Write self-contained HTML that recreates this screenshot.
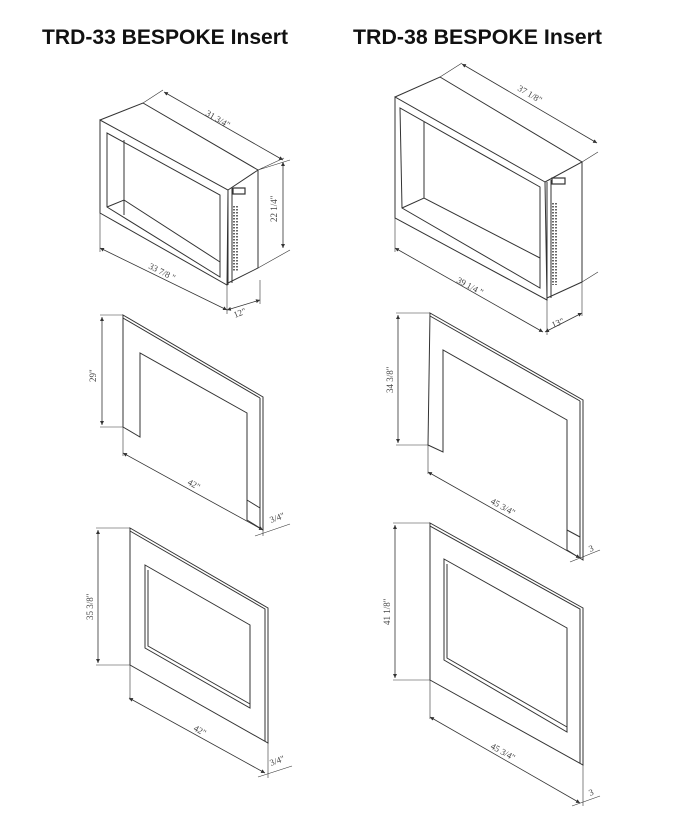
<!DOCTYPE html>
<html><head><meta charset="utf-8"><style>
html,body{margin:0;padding:0;background:#fff;}
svg{display:block;}
.t{font-family:"Liberation Sans",sans-serif;font-weight:bold;font-size:21px;fill:#111;}
.d{font-family:"Liberation Serif",serif;font-size:9px;fill:#444;}
</style></head><body>
<svg width="700" height="830" viewBox="0 0 700 830" xmlns="http://www.w3.org/2000/svg">
<defs>
<marker id="a" viewBox="0 0 6 6" refX="6" refY="3" markerWidth="5" markerHeight="5" orient="auto-start-reverse"><path d="M0,0L6,3L0,6z" fill="#333"/></marker>
</defs>
<text class="t" x="42" y="44" textLength="246" lengthAdjust="spacingAndGlyphs">TRD-33 BESPOKE Insert</text>
<text class="t" x="353" y="44" textLength="249" lengthAdjust="spacingAndGlyphs">TRD-38 BESPOKE Insert</text>

<g fill="none" stroke="#333" stroke-width="1">
<!-- ===== TOP LEFT BOX ===== -->
<path d="M100,120 L100,213 L227,285 L228,190 Z" fill="#fff"/>
<path d="M107,133 L107,207 L220,277 L220,195 Z"/>
<path d="M124,140 L124,215"/>
<path d="M107,207 L124,200 L220,262"/>
<path d="M100,120 L143,103 L258,170 L228,190"/>
<path d="M258,170 L258,268 L228,283"/>
<path d="M228,190 L228,285"/>
<path d="M232,188 L232,283"/>
<rect x="233" y="188" width="12" height="6" stroke-width="1.2"/>
<path d="M234,206 L234,272 M237,206 L237,272" stroke="#666" stroke-dasharray="1.5,1.5" stroke-width="2"/>
<path d="M143,103 L163,90 M258,170 L284,158 M258,170 L290,160 M258,268 L290,250" stroke-width="0.6"/>
<path d="M164,92 L283,160" stroke-width="0.8" marker-start="url(#a)" marker-end="url(#a)"/>
<path d="M283,162 L283,248" stroke-width="0.8" marker-start="url(#a)" marker-end="url(#a)"/>
<path d="M100,213 L100,252 M227,285 L227,314 M260,280 L260,304" stroke-width="0.6"/>
<path d="M100,248 L227,310" stroke-width="0.8" marker-start="url(#a)" marker-end="url(#a)"/>
<path d="M227,310 L260,300" stroke-width="0.8" marker-start="url(#a)" marker-end="url(#a)"/>

<!-- ===== TOP RIGHT BOX ===== -->
<path d="M395,97 L395,218 L547,300 L545,182 Z" fill="#fff"/>
<path d="M400,108 L402,208 L540,288 L540,187 Z"/>
<path d="M424,122 L424,198"/>
<path d="M402,208 L424,198 L540,258"/>
<path d="M395,97 L440,77 L582,162 L545,182"/>
<path d="M582,162 L582,282 L547,298"/>
<path d="M547,182 L547,300"/>
<path d="M551,180 L551,298"/>
<rect x="552" y="178" width="13" height="6" stroke-width="1.2"/>
<path d="M553,203 L553,285 M556,203 L556,285" stroke="#666" stroke-dasharray="1.5,1.5" stroke-width="2"/>
<path d="M440,77 L462,63 M582,162 L598,152 M582,282 L598,272" stroke-width="0.6"/>
<path d="M462,64 L597,143" stroke-width="0.8" marker-start="url(#a)" marker-end="url(#a)"/>
<path d="M395,218 L395,252 M547,300 L547,335 M582,282 L582,316" stroke-width="0.6"/>
<path d="M395,248 L543,332" stroke-width="0.8" marker-start="url(#a)" marker-end="url(#a)"/>
<path d="M545,332 L582,313" stroke-width="0.8" marker-start="url(#a)" marker-end="url(#a)"/>

<!-- ===== MIDDLE LEFT PANEL ===== -->
<path d="M123,315 L263,397 L263,530 L247,520 L247,413 L140,353 L140,437 L123,427 Z" fill="#fff"/>
<path d="M123,318 L260,398 M260,398 L260,528"/>
<path d="M247,500 L260,508"/>
<path d="M100,315 L123,315 M100,427 L123,427" stroke-width="0.6"/>
<path d="M102,317 L102,425" stroke-width="0.8" marker-start="url(#a)" marker-end="url(#a)"/>
<path d="M123,427 L123,456 M263,530 L263,536" stroke-width="0.6"/>
<path d="M123,453 L263,530" stroke-width="0.8" marker-start="url(#a)" marker-end="url(#a)"/>
<path d="M255,536 L290,524" stroke-width="0.6"/>

<!-- ===== MIDDLE RIGHT PANEL ===== -->
<path d="M430,313 L583,400 L583,560 L567,550 L567,420 L443,350 L443,452 L428,445 Z" fill="#fff"/>
<path d="M430,316 L580,401 M580,401 L580,558"/>
<path d="M567,530 L580,537"/>
<path d="M396,313 L430,313 M396,445 L428,445" stroke-width="0.6"/>
<path d="M398,315 L398,443" stroke-width="0.8" marker-start="url(#a)" marker-end="url(#a)"/>
<path d="M428,445 L428,474" stroke-width="0.6"/>
<path d="M428,472 L580,558" stroke-width="0.8" marker-start="url(#a)" marker-end="url(#a)"/>
<path d="M570,562 L600,550" stroke-width="0.6"/>

<!-- ===== BOTTOM LEFT PANEL ===== -->
<path d="M130,528 L268,608 L268,743 L130,665 Z" fill="#fff"/>
<path d="M130,531 L265,609 L265,741"/>
<path d="M145,565 L250,625 L250,708 L145,648 Z"/>
<path d="M148,570 L148,646 L250,704"/>
<path d="M96,528 L130,528 M96,665 L130,665" stroke-width="0.6"/>
<path d="M98,530 L98,663" stroke-width="0.8" marker-start="url(#a)" marker-end="url(#a)"/>
<path d="M130,665 L130,700 M268,743 L268,778" stroke-width="0.6"/>
<path d="M129,698 L265,773" stroke-width="0.8" marker-start="url(#a)" marker-end="url(#a)"/>
<path d="M258,777 L292,766" stroke-width="0.6"/>

<!-- ===== BOTTOM RIGHT PANEL ===== -->
<path d="M430,523 L583,608 L583,765 L430,680 Z" fill="#fff"/>
<path d="M430,526 L580,609 L580,763"/>
<path d="M444,559 L567,628 L567,732 L444,660 Z"/>
<path d="M447,564 L447,658 L567,727"/>
<path d="M393,523 L430,523 M393,680 L430,680" stroke-width="0.6"/>
<path d="M395,525 L395,678" stroke-width="0.8" marker-start="url(#a)" marker-end="url(#a)"/>
<path d="M430,680 L430,719 M583,765 L583,806" stroke-width="0.6"/>
<path d="M430,717 L580,803" stroke-width="0.8" marker-start="url(#a)" marker-end="url(#a)"/>
<path d="M572,806 L600,796" stroke-width="0.6"/>
</g>

<text class="d" transform="translate(205,115) rotate(30)">31  3/4"</text>
<text class="d" transform="translate(277,222) rotate(-90)">22  1/4"</text>
<text class="d" transform="translate(148,268) rotate(27)">33  7/8  "</text>
<text class="d" transform="translate(235,318) rotate(-22)">12"</text>
<text class="d" transform="translate(517,90) rotate(30)">37  1/8"</text>
<text class="d" transform="translate(456,282) rotate(28)">39  1/4  "</text>
<text class="d" transform="translate(553,328) rotate(-22)">13"</text>
<text class="d" transform="translate(96,382) rotate(-90)">29"</text>
<text class="d" transform="translate(187,484) rotate(29)">42"</text>
<text class="d" transform="translate(271,523) rotate(-20)">3/4"</text>
<text class="d" transform="translate(393,393) rotate(-90)">34  3/8"</text>
<text class="d" transform="translate(490,503) rotate(29)">45  3/4"</text>
<text class="d" transform="translate(590,552) rotate(-20)">3</text>
<text class="d" transform="translate(93,620) rotate(-90)">35  3/8"</text>
<text class="d" transform="translate(193,730) rotate(29)">42"</text>
<text class="d" transform="translate(271,766) rotate(-20)">3/4"</text>
<text class="d" transform="translate(390,625) rotate(-90)">41  1/8"</text>
<text class="d" transform="translate(490,748) rotate(29)">45  3/4"</text>
<text class="d" transform="translate(590,796) rotate(-20)">3</text>
</svg>
</body></html>
